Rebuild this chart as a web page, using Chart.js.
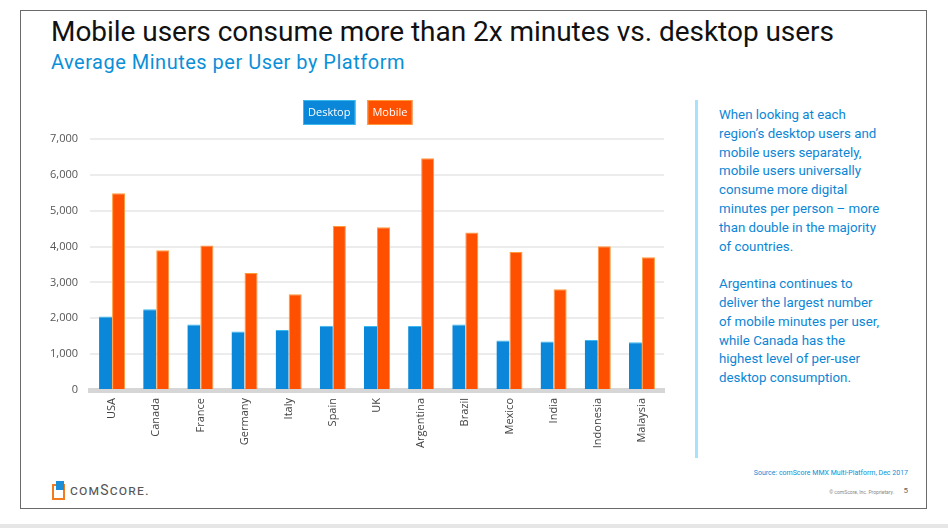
<!DOCTYPE html>
<html>
<head>
<meta charset="utf-8">
<script src="https://cdn.jsdelivr.net/npm/chart.js@4/dist/chart.umd.min.js"></script>
<style>
  html,body{margin:0;padding:0;background:#fff;}
  body{width:948px;height:528px;position:relative;overflow:hidden;font-family:Roboto,"Open Sans",sans-serif;}
  #frame{position:absolute;left:20px;top:10px;width:905px;height:497px;border:1.5px solid #6a6a6a;background:#fff;}
  #bottomline{position:absolute;left:0;top:524px;width:948px;height:4px;background:#e6e6e6;}
  #title{position:absolute;left:51px;top:15px;font-size:28px;color:#111;white-space:nowrap;letter-spacing:-0.04px;}
  #subtitle{position:absolute;left:51px;top:50px;font-size:20px;color:#0b8fd8;white-space:nowrap;letter-spacing:0.5px;}
  #sidebar{position:absolute;left:695px;top:100px;width:3px;height:358px;background:#a6e2fb;}
  #side{position:absolute;left:719px;top:106px;font-size:13.3px;line-height:18.8px;color:#0b86d6;white-space:nowrap;}
  #side p{margin:0 0 18.8px 0;}
  #source{position:absolute;right:40px;top:469px;font-size:7px;color:#0b8fd8;white-space:nowrap;}
  #copy{position:absolute;right:54px;top:489px;font-size:5px;color:#888;white-space:nowrap;}
  #page{position:absolute;right:40px;top:486px;font-size:8px;color:#666;}
  #logo{position:absolute;left:52px;top:481px;height:20px;}
  #logo .ic1{position:absolute;left:0;top:3px;width:9px;height:12px;border:2px solid #f47a20;}
  #logo .ic2{position:absolute;left:4px;top:0px;width:8px;height:9px;background:#1a8fd8;}
  #logo .txt{position:absolute;left:18px;top:1px;font-size:14px;color:#555;letter-spacing:1.2px;white-space:nowrap;font-variant:small-caps;}
  canvas{position:absolute;left:0;top:0;}
</style>
</head>
<body>
<div id="frame"></div>
<div id="bottomline"></div>
<div id="title">Mobile users consume more than 2x minutes vs. desktop users</div>
<div id="subtitle">Average Minutes per User by Platform</div>
<div id="sidebar"></div>
<div id="side">
<p>When looking at each<br>region’s desktop users and<br>mobile users separately,<br>mobile users universally<br>consume more digital<br>minutes per person – more<br>than double in the majority<br>of countries.</p>
<p>Argentina continues to<br>deliver the largest number<br>of mobile minutes per user,<br>while Canada has the<br>highest level of per-user<br>desktop consumption.</p>
</div>
<div id="source">Source: comScore MMX Multi-Platform, Dec 2017</div>
<div id="copy">© comScore, Inc. Proprietary.</div>
<div id="page">5</div>
<div id="logo"><div class="ic1"></div><div class="ic2"></div><div class="txt">comScore.</div></div>
<div style="position:absolute;left:0;top:0;width:948px;height:528px;"><canvas id="c" width="948" height="528"></canvas></div>
<script>
const countries = ["USA","Canada","France","Germany","Italy","Spain","UK","Argentina","Brazil","Mexico","India","Indonesia","Malaysia"];
const desktopMinutes = [2050,2250,1830,1630,1670,1790,1785,1785,1830,1380,1350,1395,1330];
const mobileMinutes = [5490,3900,4030,3265,2670,4575,4540,6460,4390,3850,2810,4010,3700];
const yTicks = [0,1000,2000,3000,4000,5000,6000,7000];

const legendBoxes = {
  id: 'legendBoxes',
  afterDraw(chart) {
    const ctx = chart.ctx;
    const ca = chart.chartArea;
    ctx.save();
    ctx.font = '11px "Open Sans", sans-serif';
    ctx.textBaseline = 'middle';
    let x = ca.left + 213;
    const y = ca.top - 39;
    chart.data.datasets.forEach(ds => {
      const w = ctx.measureText(ds.label).width + 10;
      ctx.fillStyle = ds.backgroundColor;
      ctx.fillRect(x, y, w, 25);
      ctx.strokeStyle = ds.borderColor;
      ctx.lineWidth = 1;
      ctx.strokeRect(x + 0.5, y + 0.5, w - 1, 24);
      ctx.fillStyle = '#fff';
      ctx.textAlign = 'left';
      ctx.fillText(ds.label, x + 5, y + 13);
      x += w + 12;
    });
    ctx.restore();
  }
};

new Chart(document.getElementById('c'), {
  type: 'bar',
  data: {
    labels: countries,
    datasets: [
      { label: 'Desktop', data: desktopMinutes, backgroundColor: '#0a87d8', borderColor: '#3bb8ee', borderWidth: {top:1,left:0,right:0,bottom:0} },
      { label: 'Mobile', data: mobileMinutes, backgroundColor: '#ff5000', borderColor: '#ff9a3c', borderWidth: 1 }
    ]
  },
  options: {
    responsive: false,
    animation: false,
    devicePixelRatio: 1,
    layout: { padding: { top: 139, right: 284, left: 0, bottom: 0 } },
    plugins: { legend: { display: false }, tooltip: { enabled: false }, title: { display: false } },
    datasets: { bar: { categoryPercentage: 0.59, barPercentage: 1.0 } },
    scales: {
      x: {
        grid: { display: false, drawTicks: false },
        border: { display: true, color: '#d6d6d6', width: 5 },
        ticks: { color: '#444', font: { size: 11, family: '"Open Sans", sans-serif' }, minRotation: 90, maxRotation: 90, padding: 8, autoSkip: false },
        afterFit(scale) { scale.height = 138; }
      },
      y: {
        min: 0, max: 7000,
        afterBuildTicks(scale) { scale.ticks = yTicks.map(v => ({ value: v })); },
        grid: { color: '#ececec', lineWidth: 2, drawTicks: false },
        border: { display: false },
        ticks: { color: '#555', font: { size: 11, family: '"Open Sans", sans-serif' }, padding: 12,
                 callback: v => v.toLocaleString('en-US') },
        afterFit(scale) { scale.width = 90; }
      }
    }
  },
  plugins: [legendBoxes]
});
</script>
</body>
</html>
